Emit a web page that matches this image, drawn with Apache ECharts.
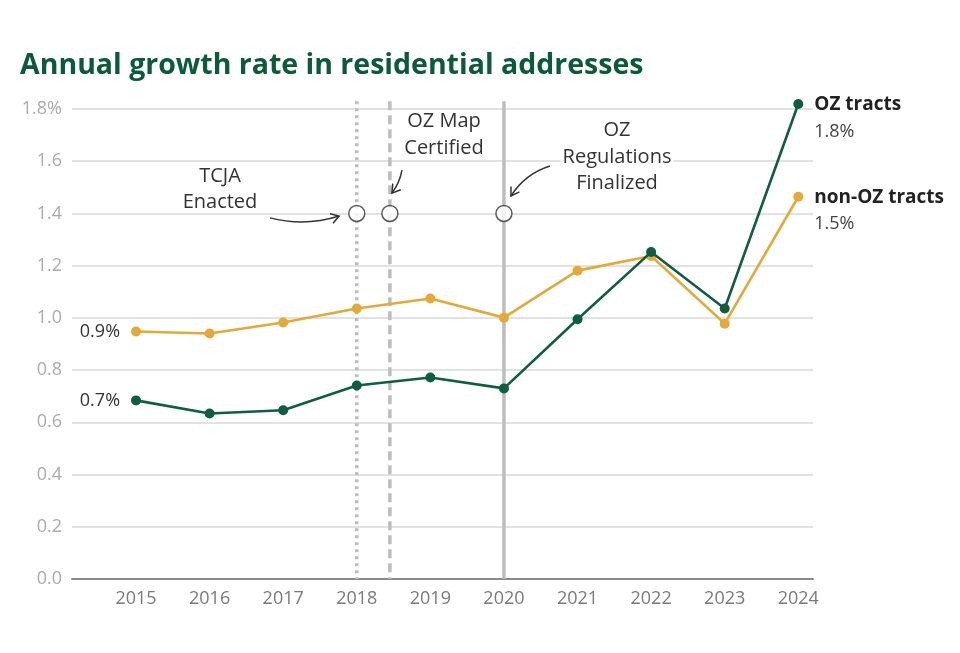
<!DOCTYPE html>
<html><head><meta charset="utf-8">
<script src="https://cdn.jsdelivr.net/npm/echarts@6/dist/echarts.min.js"></script>
<style>html,body{margin:0;padding:0;background:#fff}#c{width:960px;height:653px}</style>
</head><body><div id="c"></div>
<script>
// ---- data ----
const years = [2015, 2016, 2017, 2018, 2019, 2020, 2021, 2022, 2023, 2024];
const ozTracts = [0.684, 0.634, 0.646, 0.741, 0.772, 0.730, 0.995, 1.252, 1.036, 1.819];
const nonOzTracts = [0.948, 0.940, 0.982, 1.036, 1.074, 1.001, 1.181, 1.237, 0.978, 1.464];
const seriesNames = ['OZ tracts', 'non-OZ tracts'];
const yTicks = [0, 0.2, 0.4, 0.6, 0.8, 1.0, 1.2, 1.4, 1.6, 1.8];
const eventNames = ['TCJA\nEnacted', 'OZ Map\nCertified', 'OZ\nRegulations\nFinalized'];
const eventYears = [2018, 2018.45, 2020];
const eventLevel = 1.4;
const eventLineTop = 1.83;
const titleText = 'Annual growth rate in residential addresses';

// ---- styling / layout ----
const FONT = "'Open Sans', 'Noto Sans', sans-serif";
const GREEN = '#0d5e42';
const ORANGE = '#e5a935';
const yMax = yTicks[yTicks.length - 1];

function lineSeries(name, values, color, z) {
  return {
    name: name, type: 'line', z: z, clip: false,
    data: years.map((y, i) => {
      const item = { value: [y, values[i]] };
      if (i === 0) {
        item.label = {
          show: true, position: 'left', distance: 11,
          formatter: p => p.value[1].toFixed(1) + '%',
          fontFamily: FONT, fontSize: 18, color: '#333'
        };
      }
      return item;
    }),
    symbol: 'circle', symbolSize: 10,
    itemStyle: { color: color },
    lineStyle: { color: color, width: 2.6 },
    emphasis: { disabled: true },
    endLabel: {
      show: true, distance: 16, offset: [0, 14],
      formatter: p => '{n|' + p.seriesName + '}\n{v|' + p.value[1].toFixed(1) + '%}',
      rich: {
        n: { fontFamily: FONT, fontWeight: 'bold', fontSize: 19, color: '#222', lineHeight: 27 },
        v: { fontFamily: FONT, fontSize: 18, color: '#444', lineHeight: 27 }
      }
    }
  };
}

// arrow geometry (data coords): start, end, bend (px)
const arrowDefs = [
  [2016.82, 1.383, 2017.76, 1.390, 10],
  [2018.614, 1.566, 2018.478, 1.478, -3],
  [2020.625, 1.582, 2020.095, 1.467, 9]
];
const lineDashes = [[3, 4], [9, 5], null];

const textStyleBase = { font: '20px ' + FONT, fill: '#333', textAlign: 'center', textVerticalAlign: 'middle' };

const option = {
  animation: false,
  backgroundColor: '#fff',
  grid: { left: 72, right: 147, top: 109, bottom: 74 },
  xAxis: {
    type: 'value', min: 2014.13, max: 2024.2,
    axisLine: { show: true, lineStyle: { color: '#8a8a8a', width: 2 } },
    axisTick: { show: false },
    splitLine: { show: false },
    axisLabel: {
      customValues: years, margin: 11,
      fontFamily: FONT, fontSize: 18, color: '#7a7a7a',
      formatter: v => String(v)
    }
  },
  yAxis: {
    type: 'value', min: 0, max: yMax, interval: 0.2,
    axisLine: { show: false }, axisTick: { show: false },
    splitLine: { lineStyle: { color: '#d8d8d8', width: 1.5 } },
    axisLabel: {
      margin: 10, fontFamily: FONT, fontSize: 18, color: '#ababab',
      formatter: v => (Math.abs(v - yMax) < 1e-9 ? v.toFixed(1) + '%' : v.toFixed(1))
    }
  },
  graphic: [
    { type: 'text', x: 20, y: 66, z: 10, style: { text: titleText, font: 'bold 28.5px ' + FONT, fill: '#0b5a3c', textVerticalAlign: 'middle' } },
    { type: 'text', x: 220, y: 189, z: 10, style: Object.assign({ text: eventNames[0], lineHeight: 26 }, textStyleBase) },
    { type: 'text', x: 444, y: 134.5, z: 10, style: Object.assign({ text: eventNames[1], lineHeight: 27 }, textStyleBase) },
    { type: 'text', x: 617, y: 157, z: 10, style: Object.assign({ text: eventNames[2], lineHeight: 26.5, backgroundColor: '#fff', padding: [0, 2] }, textStyleBase) }
  ],
  series: [
    {
      type: 'custom', z: 1, silent: true,
      data: eventYears.map((x, i) => [x, eventLineTop, i]),
      renderItem: function (params, api) {
        const top = api.coord([api.value(0), api.value(1)]);
        const bot = api.coord([api.value(0), 0]);
        return {
          type: 'line',
          shape: { x1: top[0], y1: top[1], x2: bot[0], y2: bot[1] },
          style: { stroke: '#bdbdbd', lineWidth: 3.5, lineDash: lineDashes[api.value(2)] }
        };
      }
    },
    lineSeries(seriesNames[1], nonOzTracts, ORANGE, 3),
    lineSeries(seriesNames[0], ozTracts, GREEN, 4),
    {
      type: 'scatter', z: 5, silent: true,
      data: eventYears.map(x => [x, eventLevel]),
      symbol: 'circle', symbolSize: 16,
      itemStyle: { color: '#fff', borderColor: '#333', borderWidth: 1.5 }
    },
    {
      type: 'custom', z: 6, silent: true,
      data: arrowDefs,
      renderItem: function (params, api) {
        const p1 = api.coord([api.value(0), api.value(1)]);
        const p2 = api.coord([api.value(2), api.value(3)]);
        const bend = api.value(4);
        const dx = p2[0] - p1[0], dy = p2[1] - p1[1];
        const L = Math.hypot(dx, dy);
        const nx = -dy / L, ny = dx / L;
        const c = [(p1[0] + p2[0]) / 2 + nx * bend, (p1[1] + p2[1]) / 2 + ny * bend];
        const tx = p2[0] - c[0], ty = p2[1] - c[1];
        const tl = Math.hypot(tx, ty);
        const ux = tx / tl, uy = ty / tl;
        const ah = 8, aw = 5;
        const a1 = [p2[0] - ux * ah - uy * aw, p2[1] - uy * ah + ux * aw];
        const a2 = [p2[0] - ux * ah + uy * aw, p2[1] - uy * ah - ux * aw];
        return {
          type: 'group',
          children: [
            { type: 'bezierCurve', shape: { x1: p1[0], y1: p1[1], x2: p2[0], y2: p2[1], cpx1: c[0], cpy1: c[1] },
              style: { stroke: '#333', lineWidth: 1.5, fill: null } },
            { type: 'polyline', shape: { points: [a1, p2, a2] },
              style: { stroke: '#333', lineWidth: 1.5, fill: null } }
          ]
        };
      }
    }
  ]
};

const chart = echarts.init(document.getElementById('c'), null, { renderer: 'canvas' });
chart.setOption(option);
</script>
</body></html>
